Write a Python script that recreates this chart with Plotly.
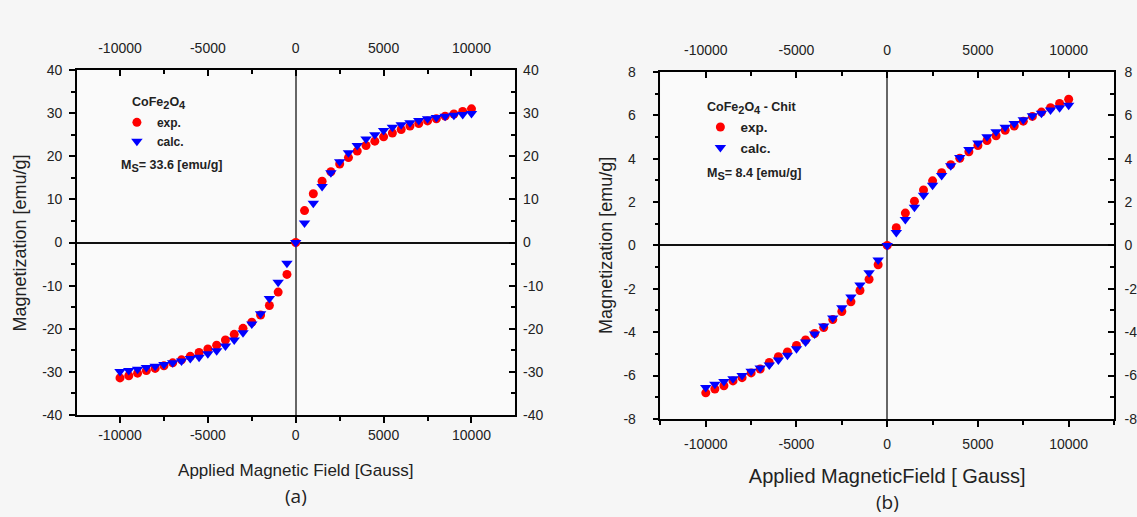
import plotly.graph_objects as go

W, H = 1137, 517

field = [-10000, -9500, -9000, -8500, -8000, -7500, -7000, -6500, -6000, -5500,
         -5000, -4500, -4000, -3500, -3000, -2500, -2000, -1500, -1000, -500,
         0,
         500, 1000, 1500, 2000, 2500, 3000, 3500, 4000, 4500, 5000,
         5500, 6000, 6500, 7000, 7500, 8000, 8500, 9000, 9500, 10000]

a_exp = [-31.4, -30.9, -30.3, -29.7, -29.2, -28.6, -27.9, -27.2, -26.4, -25.5,
         -24.7, -23.8, -22.6, -21.3, -19.9, -18.5, -16.8, -14.6, -11.5, -7.4,
         0.0,
         7.4, 11.3, 14.2, 16.4, 18.2, 19.7, 21.2, 22.5, 23.5, 24.5,
         25.4, 26.2, 27.0, 27.6, 28.2, 28.7, 29.3, 29.8, 30.4, 31.0]

a_calc = [-29.9, -29.7, -29.4, -29.0, -28.7, -28.3, -27.9, -27.5, -26.9, -26.6,
          -25.8, -25.1, -24.0, -22.6, -20.9, -18.9, -16.5, -13.0, -9.2, -4.8,
          0.0,
          4.5, 9.1, 13.0, 16.2, 18.7, 20.8, 22.5, 24.0, 25.0, 26.0,
          26.7, 27.3, 27.8, 28.3, 28.7, 29.0, 29.3, 29.5, 29.7, 29.9]

b_exp = [-6.80, -6.62, -6.47, -6.25, -6.10, -5.88, -5.70, -5.40, -5.13, -4.91,
         -4.61, -4.36, -4.06, -3.79, -3.42, -3.05, -2.60, -2.08, -1.56, -0.89,
         0.0,
         0.82, 1.49, 2.04, 2.56, 2.98, 3.35, 3.72, 4.02, 4.32, 4.61,
         4.84, 5.06, 5.31, 5.51, 5.73, 5.95, 6.15, 6.35, 6.55, 6.74]

b_calc = [-6.55, -6.40, -6.28, -6.15, -6.00, -5.80, -5.65, -5.51, -5.28, -5.06,
          -4.76, -4.46, -4.09, -3.72, -3.35, -2.87, -2.38, -1.83, -1.26, -0.67,
          0.0,
          0.60, 1.19, 1.76, 2.31, 2.78, 3.23, 3.68, 4.06, 4.42, 4.72,
          5.01, 5.24, 5.45, 5.62, 5.80, 5.98, 6.10, 6.25, 6.35, 6.47]

x_tickvals = [-10000, -5000, 0, 5000, 10000]
x_ticktext = ["-10000", "-5000", "0", "5000", "10000"]
a_tickvals = [-40, -30, -20, -10, 0, 10, 20, 30, 40]
a_ticktext = ["-40", "-30", "-20", "-10", "0", "10", "20", "30", "40"]
b_tickvals = [-8, -6, -4, -2, 0, 2, 4, 6, 8]
b_ticktext = ["-8", "-6", "-4", "-2", "0", "2", "4", "6", "8"]

SUB = "<sub><span style='font-size:11px'>{}</span></sub>"
a_label = "CoFe" + SUB.format("2") + "O" + SUB.format("4")
b_label = "CoFe" + SUB.format("2") + "O" + SUB.format("4") + " - Chit"
a_ms = "M" + SUB.format("S") + "= 33.6 [emu/g]"
b_ms = "M" + SUB.format("S") + "= 8.4 [emu/g]"
x_title_a = "Applied Magnetic Field [Gauss]"
x_title_b = "Applied MagneticField [ Gauss]"
y_title = "Magnetization [emu/g]"

FONT = "Liberation Sans, Arial, sans-serif"
RED = "#ff0000"
BLUE = "#0000ff"


def px(x):
    return x / W


def py(y):
    return 1 - y / H


fig = go.Figure()

fig.add_trace(go.Scatter(x=field, y=a_exp, mode="markers", name="exp.",
                         marker=dict(symbol="circle", size=9, color=RED),
                         xaxis="x", yaxis="y", legend="legend"))
fig.add_trace(go.Scatter(x=field, y=a_calc, mode="markers", name="calc.",
                         marker=dict(symbol="triangle-down", size=10, color=BLUE),
                         xaxis="x", yaxis="y", legend="legend"))
fig.add_trace(go.Scatter(x=field, y=b_exp, mode="markers", name="exp.",
                         marker=dict(symbol="circle", size=9, color=RED),
                         xaxis="x3", yaxis="y3", legend="legend2"))
fig.add_trace(go.Scatter(x=field, y=b_calc, mode="markers", name="calc.",
                         marker=dict(symbol="triangle-down", size=10, color=BLUE),
                         xaxis="x3", yaxis="y3", legend="legend2"))
# invisible carriers so that the mirrored (top/right) axes get drawn
fig.add_trace(go.Scatter(x=field, y=a_exp, mode="markers", opacity=0,
                         showlegend=False, hoverinfo="skip",
                         xaxis="x2", yaxis="y2"))
fig.add_trace(go.Scatter(x=field, y=b_exp, mode="markers", opacity=0,
                         showlegend=False, hoverinfo="skip",
                         xaxis="x4", yaxis="y4"))

tickfont = dict(family=FONT, size=14, color="#222")


def ax_common(**kw):
    d = dict(showline=True, linecolor="black", linewidth=1.5, showgrid=False,
             tickcolor="black", tickwidth=1.5, ticklen=6, tickfont=tickfont,
             zeroline=False, tickmode="array")
    d.update(kw)
    return d


def minor(dt, where):
    return dict(dtick=dt, ticks=where, ticklen=4, tickcolor="black",
                tickwidth=1.5)


ax_x = [px(77), px(515)]
ax_y = [py(420), py(64)]
bx_x = [px(661), px(1115)]
bx_y = [py(424), py(66)]

XR_A = [-12450, 12450]
XR_B = [-12500, 12500]

fig.update_layout(
    # Panel (a)
    xaxis=ax_common(domain=ax_x, anchor="y", range=XR_A, side="bottom",
                    tickvals=x_tickvals, ticktext=x_ticktext, ticks="outside",
                    minor=minor(2500, "outside"),
                    zeroline=True, zerolinecolor="#666", zerolinewidth=1.5,
                    title=dict(text=x_title_a,
                               font=dict(family=FONT, size=17, color="#222"),
                               standoff=23)),
    xaxis2=ax_common(domain=ax_x, anchor="y2", overlaying="x", range=XR_A,
                     side="top", tickvals=x_tickvals, ticktext=x_ticktext,
                     ticks="inside", minor=minor(2500, "inside"),
                     ticklabelstandoff=10),
    yaxis=ax_common(domain=ax_y, anchor="x", range=[-40, 40], side="left",
                    tickvals=a_tickvals, ticktext=a_ticktext, ticks="outside",
                    minor=minor(5, "outside"), ticklabelstandoff=4,
                    zeroline=True, zerolinecolor="#111", zerolinewidth=2),
    yaxis2=ax_common(domain=ax_y, anchor="x2", overlaying="y", range=[-40, 40],
                     side="right", tickvals=a_tickvals, ticktext=a_ticktext,
                     ticks="inside", minor=minor(5, "inside"),
                     ticklabelstandoff=4),
    # Panel (b)
    xaxis3=ax_common(domain=bx_x, anchor="y3", range=XR_B, side="bottom",
                     tickvals=x_tickvals, ticktext=x_ticktext, ticks="outside",
                     minor=minor(2500, "outside"),
                     zeroline=True, zerolinecolor="#666", zerolinewidth=1.5,
                     title=dict(text=x_title_b,
                                font=dict(family=FONT, size=20, color="#222"),
                                standoff=18),
                     ticklabelstandoff=6),
    xaxis4=ax_common(domain=bx_x, anchor="y4", overlaying="x3", range=XR_B,
                     side="top", tickvals=x_tickvals, ticktext=x_ticktext,
                     ticks="inside", minor=minor(2500, "inside"),
                     ticklabelstandoff=10),
    yaxis3=ax_common(domain=bx_y, anchor="x3", range=[-8, 8], side="left",
                     tickvals=b_tickvals, ticktext=b_ticktext, ticks="outside",
                     minor=minor(1, "outside"),
                     zeroline=True, zerolinecolor="#111", zerolinewidth=2,
                     ticklabelstandoff=14),
    yaxis4=ax_common(domain=bx_y, anchor="x4", overlaying="y3", range=[-8, 8],
                     side="right", tickvals=b_tickvals, ticktext=b_ticktext,
                     ticks="inside", minor=minor(1, "inside"),
                     ticklabelstandoff=6),
)

legend_common = dict(bgcolor="rgba(0,0,0,0)", borderwidth=0,
                     xanchor="left", yanchor="top", tracegroupgap=0,
                     itemclick=False, itemdoubleclick=False)

fig.update_layout(
    width=W, height=H,
    margin=dict(l=0, r=0, t=0, b=0),
    paper_bgcolor="#f6f6f6",
    plot_bgcolor="#fafafa",
    showlegend=True,
    legend=dict(x=px(117), y=py(103),
                font=dict(family=FONT, size=12, color="#222", weight="bold"),
                **legend_common),
    legend2=dict(x=px(701), y=py(107),
                 font=dict(family=FONT, size=13.5, color="#222", weight="bold"),
                 **legend_common),
    font=dict(family=FONT),
)

ann_font = dict(family=FONT, size=12.5, color="#222", weight="bold")
annotations = [
    dict(text=a_label, x=px(130), y=py(98), xanchor="left", yanchor="middle",
         font=ann_font),
    dict(text=a_ms, x=px(119), y=py(163), xanchor="left", yanchor="middle",
         font=ann_font),
    dict(text=b_label, x=px(706), y=py(103), xanchor="left", yanchor="middle",
         font=ann_font),
    dict(text=b_ms, x=px(706), y=py(171), xanchor="left", yanchor="middle",
         font=ann_font),
    dict(text=y_title, x=px(20), y=py(242), xanchor="center", yanchor="middle",
         textangle=-90, font=dict(family=FONT, size=18, color="#222")),
    dict(text=y_title, x=px(607), y=py(245), xanchor="center", yanchor="middle",
         textangle=-90, font=dict(family=FONT, size=18, color="#222")),
    dict(text="(a)", x=px(296), y=py(504), xanchor="center", yanchor="middle",
         font=dict(family="Open Sans, sans-serif", size=19, color="#222")),
    dict(text="(b)", x=px(888), y=py(510), xanchor="center", yanchor="middle",
         font=dict(family="Open Sans, sans-serif", size=19, color="#222")),
]
for a in annotations:
    a.update(xref="paper", yref="paper", showarrow=False)
fig.update_layout(annotations=annotations)

fig.write_html("out.html")
